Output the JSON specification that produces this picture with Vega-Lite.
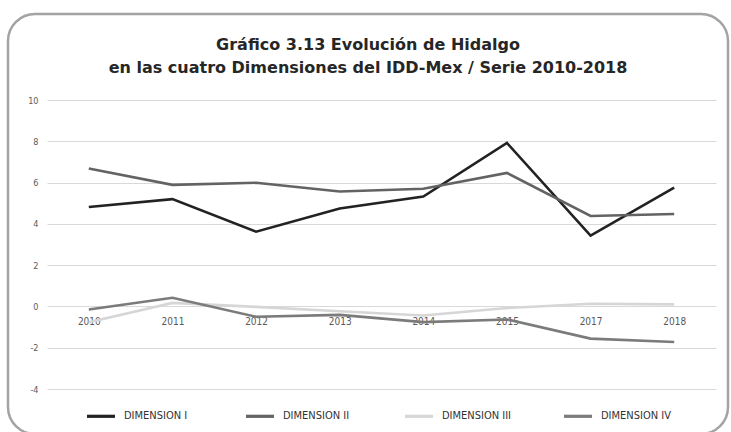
{
  "$schema": "https://vega.github.io/schema/vega-lite/v6.json",
  "width": 720,
  "height": 420,
  "autosize": {"type": "none"},
  "padding": {"left": 8, "top": 14, "right": 3, "bottom": 0},
  "background": "white",
  "config": {
    "view": {"stroke": "#a3a3a3", "strokeWidth": 2.5, "cornerRadius": 27, "fill": "white"}
  },
  "title": {
    "text": ["Gráfico 3.13 Evolución de Hidalgo", "en las cuatro Dimensiones del IDD-Mex / Serie 2010-2018"],
    "font": "DejaVu Sans",
    "fontWeight": "bold",
    "fontSize": 16,
    "color": "#262626",
    "anchor": "middle",
    "frame": "group",
    "offset": -62,
    "lineHeight": 23
  },
  "data": {
    "values": [
      {"year": "2010", "dim": "DIMENSION I", "value": 4.82},
      {"year": "2011", "dim": "DIMENSION I", "value": 5.2},
      {"year": "2012", "dim": "DIMENSION I", "value": 3.62},
      {"year": "2013", "dim": "DIMENSION I", "value": 4.74},
      {"year": "2014", "dim": "DIMENSION I", "value": 5.32},
      {"year": "2015", "dim": "DIMENSION I", "value": 7.92},
      {"year": "2017", "dim": "DIMENSION I", "value": 3.43},
      {"year": "2018", "dim": "DIMENSION I", "value": 5.76},
      {"year": "2010", "dim": "DIMENSION II", "value": 6.68},
      {"year": "2011", "dim": "DIMENSION II", "value": 5.89},
      {"year": "2012", "dim": "DIMENSION II", "value": 5.99},
      {"year": "2013", "dim": "DIMENSION II", "value": 5.57},
      {"year": "2014", "dim": "DIMENSION II", "value": 5.7},
      {"year": "2015", "dim": "DIMENSION II", "value": 6.47},
      {"year": "2017", "dim": "DIMENSION II", "value": 4.38},
      {"year": "2018", "dim": "DIMENSION II", "value": 4.48},
      {"year": "2010", "dim": "DIMENSION III", "value": -0.77},
      {"year": "2011", "dim": "DIMENSION III", "value": 0.17},
      {"year": "2012", "dim": "DIMENSION III", "value": -0.02},
      {"year": "2013", "dim": "DIMENSION III", "value": -0.23},
      {"year": "2014", "dim": "DIMENSION III", "value": -0.44},
      {"year": "2015", "dim": "DIMENSION III", "value": -0.08},
      {"year": "2017", "dim": "DIMENSION III", "value": 0.13},
      {"year": "2018", "dim": "DIMENSION III", "value": 0.1},
      {"year": "2010", "dim": "DIMENSION IV", "value": -0.15},
      {"year": "2011", "dim": "DIMENSION IV", "value": 0.42},
      {"year": "2012", "dim": "DIMENSION IV", "value": -0.5},
      {"year": "2013", "dim": "DIMENSION IV", "value": -0.41},
      {"year": "2014", "dim": "DIMENSION IV", "value": -0.76},
      {"year": "2015", "dim": "DIMENSION IV", "value": -0.63},
      {"year": "2017", "dim": "DIMENSION IV", "value": -1.56},
      {"year": "2018", "dim": "DIMENSION IV", "value": -1.72}
    ]
  },
  "mark": {"type": "line", "strokeWidth": 2.6},
  "encoding": {
    "x": {
      "field": "year",
      "type": "ordinal",
      "scale": {"range": [39, 708], "padding": 0.5},
      "axis": {
        "title": null,
        "orient": "bottom",
        "offset": -127,
        "domain": false,
        "ticks": false,
        "tickSize": 0,
        "grid": false,
        "labelAngle": 0,
        "labelPadding": 9,
        "labelFont": "Liberation Sans Narrow, DejaVu Sans Condensed, sans-serif",
        "labelFontSize": 10,
        "labelColor": "#595959"
      }
    },
    "y": {
      "field": "value",
      "type": "quantitative",
      "scale": {"domain": [-4, 10], "range": [375, 86], "nice": false, "zero": false},
      "axis": {
        "title": null,
        "values": [-4, -2, 0, 2, 4, 6, 8, 10],
        "labelExpr": "'' + datum.value",
        "offset": -39,
        "domain": false,
        "ticks": false,
        "tickSize": 0,
        "labelPadding": 9,
        "labelFont": "Liberation Sans Narrow, DejaVu Sans Condensed, sans-serif",
        "labelFontSize": 9,
        "labelColor": "#595959",
        "grid": true,
        "gridColor": "#d9d9d9",
        "gridWidth": 1
      }
    },
    "color": {
      "field": "dim",
      "type": "nominal",
      "scale": {
        "domain": ["DIMENSION I", "DIMENSION II", "DIMENSION III", "DIMENSION IV"],
        "range": ["#222222", "#636363", "#d6d6d6", "#7b7b7b"]
      },
      "legend": {
        "title": null,
        "orient": "none",
        "legendX": 77,
        "legendY": 386,
        "direction": "horizontal",
        "symbolType": "stroke",
        "symbolSize": 784,
        "symbolStrokeWidth": 3.2,
        "labelOffset": 7,
        "columnPadding": 45,
        "gridAlign": "all",
        "labelFont": "Liberation Sans Narrow, DejaVu Sans Condensed, sans-serif",
        "labelFontSize": 11,
        "labelColor": "#333333"
      }
    }
  }
}
